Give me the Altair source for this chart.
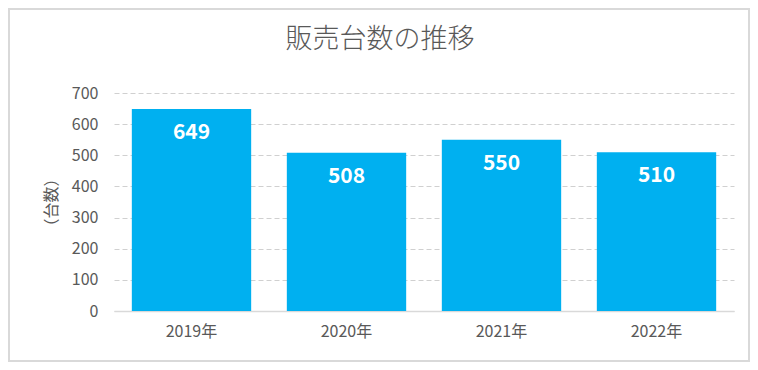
import altair as alt
import pandas as pd

years = ["2019年", "2020年", "2021年", "2022年"]
units = [649, 508, 550, 510]
title_text = "販売台数の推移"

df = pd.DataFrame({"year": years, "units": units})

FONT = "Noto Sans CJK JP"
GRAY = "#595959"

base = alt.Chart(df).encode(
    x=alt.X("year:N", sort=years,
            scale=alt.Scale(paddingInner=0.23, paddingOuter=0.115),
            axis=alt.Axis(title=None, labelAngle=0, labelFontSize=16, labelColor=GRAY,
                          labelFont=FONT, labelPadding=12, ticks=False,
                          domainColor="#d9d9d9", domainWidth=1.3, grid=False)),
    y=alt.Y("units:Q", scale=alt.Scale(domain=[0, 700]),
            axis=alt.Axis(title="（台数）", titleFont=FONT, titleFontSize=16,
                          titleFontWeight="normal", titleColor=GRAY, titlePadding=12,
                          values=[0, 100, 200, 300, 400, 500, 600, 700],
                          labelFontSize=16, labelColor=GRAY, labelFont=FONT,
                          labelPadding=16, ticks=False, domain=False,
                          grid=True, gridColor="#d0d0d0", gridDash=[5, 3], gridWidth=1)),
)

bars = base.mark_bar(color="#00b0f0")
labels = base.mark_text(color="white", fontSize=21, fontWeight="bold", font=FONT,
                        baseline="middle", dy=24).encode(text="units:Q")

frame = alt.Chart(df).mark_rect(fill=None, stroke="#d9d9d9", strokeWidth=1.5).encode(
    x=alt.value(-105), x2=alt.value(635), y=alt.value(-84), y2=alt.value(268)
)

title = alt.Chart(pd.DataFrame({"t": [title_text]})).mark_text(
    font=FONT, fontSize=27, fontWeight=300, color=GRAY, align="center", baseline="middle"
).encode(x=alt.value(266), y=alt.value(-53), text="t:N")

chart = alt.layer(frame, bars, labels, title).properties(
    width=620, height=218,
    autosize=alt.AutoSizeParams(type="none"),
    padding={"left": 106, "top": 85, "right": 16, "bottom": 51},
    background="white",
).configure_view(strokeWidth=0)

chart.save("out.html", embed_options={"renderer": "svg", "actions": False})
